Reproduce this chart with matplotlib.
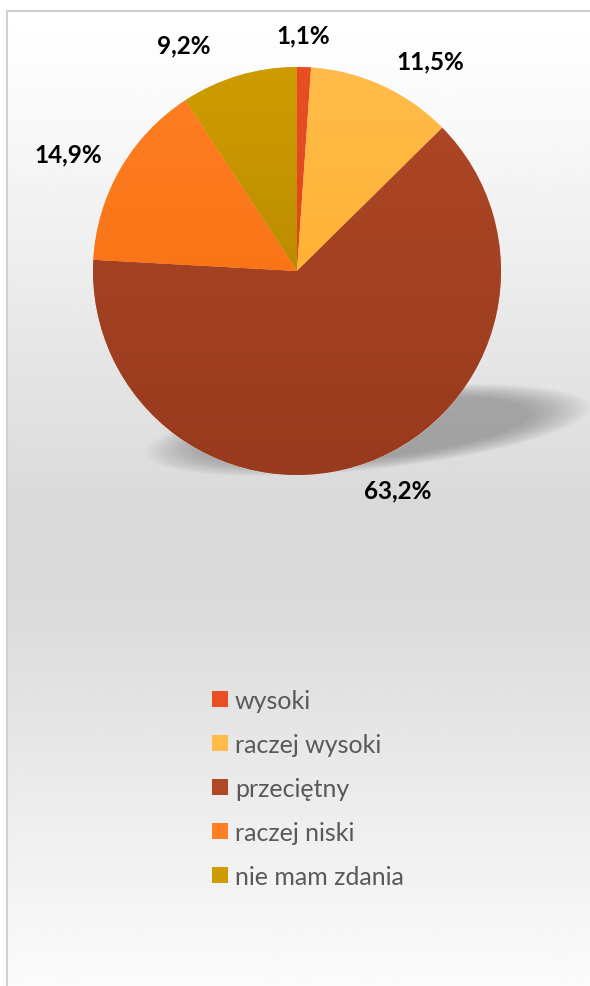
import numpy as np
import matplotlib
matplotlib.use("Agg")
import matplotlib.pyplot as plt
from matplotlib.patches import Rectangle, Ellipse, Patch
from matplotlib.colors import LinearSegmentedColormap

# ---- data ----
categories = ["wysoki", "raczej wysoki", "przeciętny", "raczej niski", "nie mam zdania"]
values = [1.1, 11.5, 63.2, 14.9, 9.2]
labels = ["1,1%", "11,5%", "63,2%", "14,9%", "9,2%"]
colors_top = ["#E94F24", "#FFBC4A", "#B04826", "#FF7F24", "#CE9C00"]
colors_bot = ["#D23C1A", "#FFA81E", "#983A1E", "#F36A08", "#AC7E00"]

W, H = 590, 987
fig = plt.figure(figsize=(W / 100, H / 100), dpi=100)
ax = fig.add_axes([0, 0, 1, 1])

# background: white outside, gradient inside frame
fx0, ftop = 7, 12
ys = np.linspace(0, 1, 400)
stops_pos = [0.0, 0.12, 0.5, 0.62, 0.85, 1.0]
stops_val = [1.0, 0.975, 0.855, 0.86, 0.94, 0.985]
prof = np.interp(ys, stops_pos, stops_val)
img = np.repeat(prof[:, None], 2, axis=1)
ax.imshow(img, cmap="gray", vmin=0, vmax=1, extent=[fx0, W + 5, 0, H - ftop],
          origin="upper", aspect="auto", zorder=0, interpolation="bilinear")
ax.add_patch(Rectangle((fx0, -5), W, H - ftop + 5, fill=False, edgecolor="#d0d0d0",
                       linewidth=1.5, zorder=1))

cx, cy, R = 297, H - 272, 204

# shadow (blurred ellipse)
n = 16
for i in range(n):
    f = 0.8 + i * 0.02
    ax.add_patch(Ellipse((368, H - 431), 405 * f, 72 * f, angle=6,
                         facecolor="#6a6a6a", edgecolor="none", alpha=0.04, zorder=2))

wedges, _ = ax.pie(values, startangle=90, counterclock=False, center=(cx, cy),
                   radius=R, colors=colors_top,
                   wedgeprops=dict(linewidth=0.6, edgecolor="#ffffff80"))
for w in wedges:
    w.set_zorder(3)

# gradient fill of wedges
for w, ct, cb in zip(wedges, colors_top, colors_bot):
    cmap = LinearSegmentedColormap.from_list("g", [cb, ct])
    grad = np.linspace(0, 1, 256)[:, None]
    im = ax.imshow(grad, cmap=cmap, extent=[cx - R, cx + R, cy - R, cy + R],
                   origin="lower", aspect="auto", zorder=4, interpolation="bilinear")
    im.set_clip_path(w)
ax.set_xlim(0, W)
ax.set_ylim(0, H)
ax.set_aspect("equal")
ax.axis("off")

# labels
label_adj = [(0.5, 1.16), (-7.7, 1.22), (4.0, 1.18), (3.0, 1.26), (10.0, 1.24)]
for w, lab, (da, df) in zip(wedges, labels, label_adj):
    mid = np.deg2rad((w.theta1 + w.theta2) / 2 + da)
    ax.text(cx + df * R * np.cos(mid), cy + df * R * np.sin(mid), lab,
            ha="center", va="center", fontsize=17.5, fontweight="bold",
            family=["Lato", "DejaVu Sans"], color="#000000", zorder=6)

handles = [Patch(facecolor=c, edgecolor="none") for c in colors_top]
leg = fig.legend(handles, categories, loc="upper left",
                 bbox_to_anchor=(212 / W, 1 - 690 / H), frameon=False,
                 prop=dict(family=["Lato", "DejaVu Sans"], size=18),
                 labelcolor="#595959", handlelength=0.62, handleheight=0.62,
                 handletextpad=0.3, labelspacing=0.84, borderaxespad=0,
                 borderpad=0)

fig.savefig("out.png", dpi=100)
